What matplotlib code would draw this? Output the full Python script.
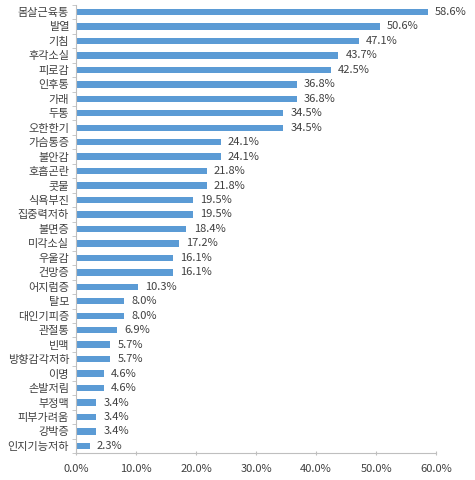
import numpy as np
import matplotlib.pyplot as plt
from matplotlib.ticker import FuncFormatter, FixedLocator

plt.rcParams['font.family'] = ['Noto Sans CJK KR', 'DejaVu Sans']

# symptoms, top to bottom
symptoms = [
    "몸살근육통", "발열", "기침", "후각소실", "피로감", "인후통", "가래", "두통",
    "오한한기", "가슴통증", "불안감", "호흡곤란", "콧물", "식욕부진", "집중력저하",
    "불면증", "미각소실", "우울감", "건망증", "어지럼증", "탈모", "대인기피증",
    "관절통", "빈맥", "방향감각저하", "이명", "손발저림", "부정맥", "피부가려움",
    "강박증", "인지기능저하",
]
percent = [
    58.6, 50.6, 47.1, 43.7, 42.5, 36.8, 36.8, 34.5,
    34.5, 24.1, 24.1, 21.8, 21.8, 19.5, 19.5,
    18.4, 17.2, 16.1, 16.1, 10.3, 8.0, 8.0,
    6.9, 5.7, 5.7, 4.6, 4.6, 3.4, 3.4,
    3.4, 2.3,
]
x_ticks = [0, 10, 20, 30, 40, 50, 60]

bar_color = "#5B9BD5"
axis_color = "#BFBFBF"
text_color = "#404040"

fig = plt.figure(figsize=(4.75, 4.8), dpi=100)
ax = fig.add_axes([0.16, 0.056, 0.758, 0.934])

y = np.arange(len(symptoms))
ax.barh(y, percent, height=0.44, color=bar_color)

for yi, v in zip(y, percent):
    ax.text(v + 1.2, yi, f"{v:.1f}%", va="center", ha="left",
            fontsize=8, color=text_color)

ax.set_ylim(len(symptoms) - 0.5, -0.5)
ax.set_yticks(y)
ax.set_yticklabels(symptoms, fontsize=8, color=text_color)
ax.yaxis.set_minor_locator(FixedLocator(np.arange(-0.5, len(symptoms), 1.0)))
ax.tick_params(axis="y", which="major", length=0, pad=5)
ax.tick_params(axis="y", which="minor", length=3, color=axis_color)

ax.set_xlim(0, 60)
ax.set_xticks(x_ticks)
ax.xaxis.set_major_formatter(FuncFormatter(lambda v, p: f"{v:.1f}%"))
ax.tick_params(axis="x", length=3, direction="inout", color=axis_color,
               labelsize=8, labelcolor=text_color, pad=6)

for side in ["top", "right"]:
    ax.spines[side].set_visible(False)
for side in ["left", "bottom"]:
    ax.spines[side].set_color(axis_color)
    ax.spines[side].set_linewidth(0.8)

fig.savefig("out.png", dpi=100)
